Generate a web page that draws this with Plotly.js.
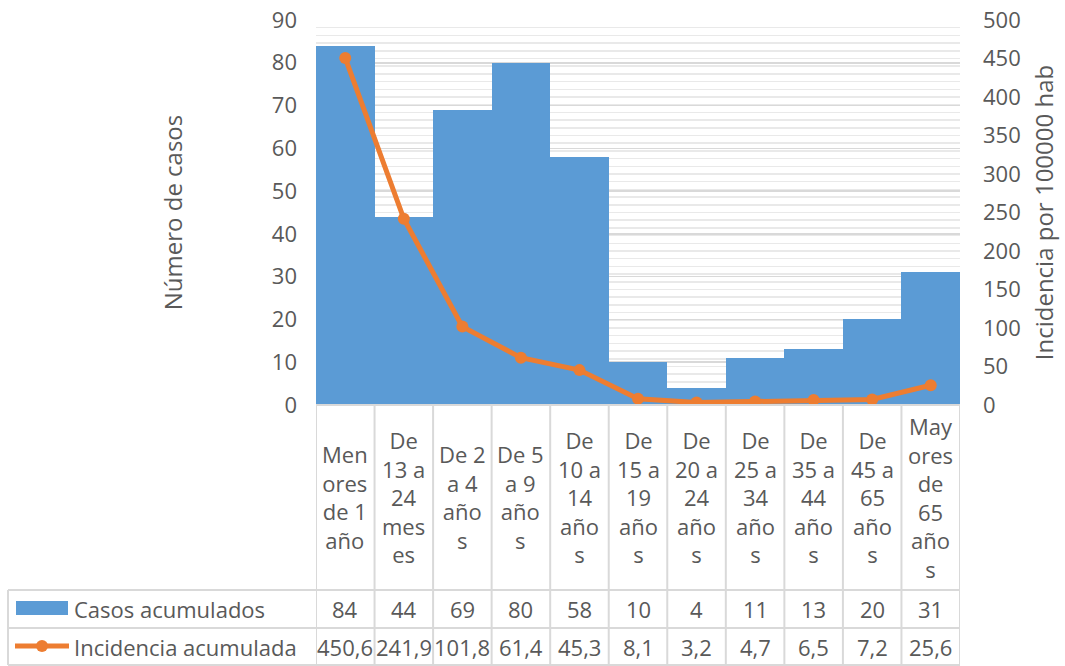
<!DOCTYPE html>
<html><head><meta charset="utf-8">
<script src="https://cdn.plot.ly/plotly-3.0.1.min.js"></script>
<style>html,body{margin:0;padding:0;background:#fff}#c{width:1065px;height:666px}</style>
</head><body><div id="c"></div>
<script>
// ---- data ----
const categories = ["Menores de 1 año","De 13 a 24 meses","De 2 a 4 años","De 5 a 9 años","De 10 a 14 años","De 15 a 19 años","De 20 a 24 años","De 25 a 34 años","De 35 a 44 años","De 45 a 65 años","Mayores de 65 años"];
const categoryLabels = ["Men<br>ores<br>de 1<br>año","De<br>13 a<br>24<br>mes<br>es","De 2<br>a 4<br>año<br>s","De 5<br>a 9<br>año<br>s","De<br>10 a<br>14<br>año<br>s","De<br>15 a<br>19<br>año<br>s","De<br>20 a<br>24<br>año<br>s","De<br>25 a<br>34<br>año<br>s","De<br>35 a<br>44<br>año<br>s","De<br>45 a<br>65<br>año<br>s","May<br>ores<br>de<br>65<br>año<br>s"];
const casosAcumulados = [84,44,69,80,58,10,4,11,13,20,31];
const incidenciaAcumulada = [450.6,241.9,101.8,61.4,45.3,8.1,3.2,4.7,6.5,7.2,25.6];
const seriesNames = ["Casos acumulados","Incidencia acumulada"];
const yTitle = "Número de casos";
const y2Title = "Incidencia por 100000 hab";

// ---- layout helpers (pixel geometry of plot area) ----
const W=1065,H=666,L=316,R=960,T=20,B=405;
const py = Y => (B-Y)/(B-T);
const px = X => (X-L)/(R-L);
const txt = '#595959', grid='#d9d9d9', FONT='"Open Sans", sans-serif';
const fmt = v => String(v).replace('.', ',');

const n = categories.length;
const shapes = [], annotations = [];
const lineStyle = {color:grid, width:2};
// table horizontal lines
shapes.push({type:'line', xref:'x', yref:'paper', x0:-0.5, x1:n-0.5, y0:py(405), y1:py(405), line:lineStyle});
[590,628,665].forEach(Y=>shapes.push({type:'line', xref:'paper', yref:'paper', x0:px(8), x1:1, y0:py(Y), y1:py(Y), line:lineStyle}));
// vertical lines
for(let i=0;i<=n;i++){
  shapes.push({type:'line', xref:'x', yref:'paper', x0:i-0.5, x1:i-0.5, y0:py(405), y1:py(665), line:lineStyle});
}
shapes.push({type:'line', xref:'paper', yref:'paper', x0:px(8), x1:px(8), y0:py(590), y1:py(665), line:lineStyle});
// legend keys
shapes.push({type:'rect', xref:'paper', yref:'paper', x0:px(16), x1:px(68), y0:py(601), y1:py(615), fillcolor:'#5B9BD5', line:{width:0}});
shapes.push({type:'line', xref:'paper', yref:'paper', x0:px(15), x1:px(69), y0:py(646), y1:py(646), line:{color:'#ED7D31', width:5}});
shapes.push({type:'circle', xref:'paper', yref:'paper', x0:px(36), x1:px(48), y0:py(640), y1:py(652), fillcolor:'#ED7D31', line:{width:0}});

const f = {family:FONT, size:22, color:txt};
for(let i=0;i<n;i++){
  annotations.push({xref:'x', yref:'paper', x:i, y:py(497.5), text:categoryLabels[i], showarrow:false, font:f, xanchor:'center', yanchor:'middle', align:'center'});
  annotations.push({xref:'x', yref:'paper', x:i, y:py(609), text:fmt(casosAcumulados[i]), showarrow:false, font:f, xanchor:'center', yanchor:'middle'});
  annotations.push({xref:'x', yref:'paper', x:i, y:py(647), text:fmt(incidenciaAcumulada[i]), showarrow:false, font:f, xanchor:'center', yanchor:'middle'});
}
annotations.push({xref:'paper', yref:'paper', x:px(72), y:py(609), text:seriesNames[0], showarrow:false, font:f, xanchor:'left', yanchor:'middle'});
annotations.push({xref:'paper', yref:'paper', x:px(72), y:py(647), text:seriesNames[1], showarrow:false, font:f, xanchor:'left', yanchor:'middle'});

const data = [
  {type:'bar', x:categories, y:casosAcumulados, name:seriesNames[0], marker:{color:'#5B9BD5', line:{width:0}}, yaxis:'y', hoverinfo:'y'},
  {type:'scatter', mode:'lines+markers', x:categories, y:incidenciaAcumulada, name:seriesNames[1], yaxis:'y2',
   line:{color:'#ED7D31', width:5}, marker:{color:'#ED7D31', size:12}}
];

const layout = {
  width:W, height:H, showlegend:false,
  margin:{l:L, r:W-R, t:T, b:H-B, pad:0},
  paper_bgcolor:'#fff', plot_bgcolor:'#fff',
  font:{family:FONT, size:22, color:txt},
  bargap:0,
  xaxis:{type:'category', range:[-0.5,n-0.5], showticklabels:false, ticks:'', showgrid:false, zeroline:false, showline:false, fixedrange:true},
  yaxis:{range:[0,90], dtick:10, showgrid:true, gridcolor:grid, gridwidth:1.5, zeroline:false, ticks:'', ticklabelstandoff:18,
         title:{text:yTitle, font:{family:FONT, size:24, color:txt}, standoff:82}, automargin:false, tickfont:{size:22, color:txt}},
  yaxis2:{range:[0,500], dtick:50, overlaying:'y', side:'right', showgrid:true, gridcolor:'#e9e9e9', gridwidth:1.5, zeroline:false, ticks:'', ticklabelstandoff:22,
          minor:{dtick:10, showgrid:true, gridcolor:'#e9e9e9', gridwidth:1.5},
          title:{text:y2Title, font:{family:FONT, size:24, color:txt}, standoff:16}, automargin:false, tickfont:{size:22, color:txt}},
  shapes:shapes, annotations:annotations
};
Plotly.newPlot('c', data, layout, {displayModeBar:false, staticPlot:true});
</script></body></html>
